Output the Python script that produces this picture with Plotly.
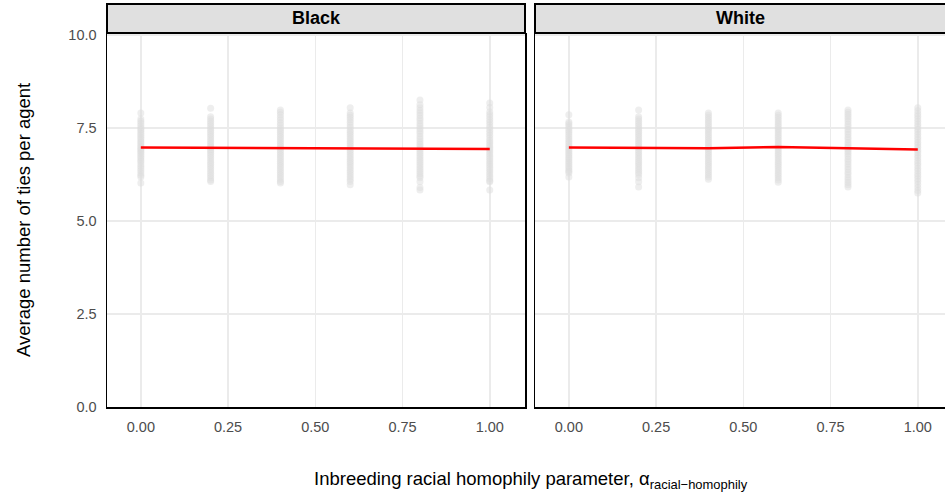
import plotly.graph_objects as go

# ---- data ----
alpha_levels = [0.0, 0.2, 0.4, 0.6, 0.8, 1.0]
x_ticks = [0.0, 0.25, 0.5, 0.75, 1.0]
x_tick_labels = ["0.00", "0.25", "0.50", "0.75", "1.00"]
y_ticks = [0.0, 2.5, 5.0, 7.5, 10.0]
y_tick_labels = ["0.0", "2.5", "5.0", "7.5", "10.0"]
facet_labels = ["Black", "White"]

black_00 = [7.90, 7.74, 7.68, 7.62, 7.56, 7.50, 7.45, 7.40, 7.35, 7.30, 7.25, 7.20, 7.15, 7.10, 7.05, 7.00, 6.96,
            6.92, 6.88, 6.84, 6.79, 6.74, 6.69, 6.64, 6.59, 6.53, 6.47, 6.41, 6.35, 6.29, 6.23, 6.18, 6.02]
black_02 = [8.03, 7.80, 7.74, 7.68, 7.62, 7.56, 7.50, 7.44, 7.38, 7.32, 7.26, 7.20, 7.14, 7.08, 7.02, 6.97, 6.92,
            6.87, 6.82, 6.76, 6.70, 6.64, 6.58, 6.52, 6.46, 6.40, 6.34, 6.28, 6.22, 6.16, 6.10, 6.06]
black_04 = [7.98, 7.92, 7.85, 7.78, 7.71, 7.64, 7.57, 7.50, 7.44, 7.38, 7.32, 7.26, 7.20, 7.14, 7.08, 7.02, 6.96,
            6.90, 6.84, 6.78, 6.72, 6.66, 6.60, 6.54, 6.48, 6.42, 6.36, 6.30, 6.24, 6.18, 6.12, 6.06, 6.02]
black_06 = [8.04, 7.90, 7.84, 7.78, 7.72, 7.65, 7.58, 7.51, 7.44, 7.38, 7.32, 7.26, 7.20, 7.14, 7.08, 7.02, 6.96,
            6.90, 6.84, 6.78, 6.72, 6.66, 6.60, 6.54, 6.48, 6.42, 6.36, 6.30, 6.24, 6.18, 6.12, 6.06, 5.97]
black_08 = [8.25, 8.12, 8.04, 7.97, 7.90, 7.83, 7.76, 7.69, 7.62, 7.55, 7.48, 7.41, 7.34, 7.27, 7.20, 7.13, 7.06,
            6.99, 6.93, 6.87, 6.81, 6.75, 6.69, 6.63, 6.57, 6.51, 6.45, 6.39, 6.33, 6.27, 6.21, 6.16, 6.05, 5.90, 5.83]
black_10 = [8.17, 8.05, 7.93, 7.86, 7.79, 7.72, 7.65, 7.58, 7.51, 7.44, 7.37, 7.30, 7.23, 7.16, 7.10, 7.04, 6.98,
            6.92, 6.86, 6.80, 6.74, 6.68, 6.62, 6.56, 6.50, 6.44, 6.38, 6.32, 6.26, 6.20, 6.14, 6.08, 6.05, 5.83]

white_00 = [7.85, 7.66, 7.61, 7.56, 7.50, 7.44, 7.38, 7.32, 7.26, 7.20, 7.14, 7.08, 7.02, 6.97, 6.92, 6.87, 6.82,
            6.77, 6.72, 6.67, 6.62, 6.57, 6.52, 6.47, 6.42, 6.37, 6.33, 6.29, 6.18]
white_02 = [7.98, 7.80, 7.74, 7.68, 7.62, 7.56, 7.50, 7.44, 7.38, 7.32, 7.26, 7.20, 7.14, 7.08, 7.02, 6.96, 6.90,
            6.84, 6.78, 6.72, 6.66, 6.60, 6.54, 6.48, 6.42, 6.36, 6.30, 6.25, 6.16, 6.05, 5.91]
white_04 = [7.90, 7.84, 7.78, 7.72, 7.66, 7.60, 7.54, 7.48, 7.42, 7.36, 7.30, 7.24, 7.18, 7.12, 7.06, 7.00, 6.95,
            6.90, 6.84, 6.78, 6.72, 6.66, 6.60, 6.54, 6.48, 6.42, 6.36, 6.30, 6.24, 6.18, 6.12]
white_06 = [7.90, 7.84, 7.78, 7.72, 7.66, 7.60, 7.54, 7.48, 7.42, 7.36, 7.30, 7.24, 7.18, 7.12, 7.06, 7.00, 6.94,
            6.88, 6.82, 6.76, 6.70, 6.64, 6.58, 6.52, 6.46, 6.40, 6.34, 6.28, 6.22, 6.16, 6.10, 6.04]
white_08 = [7.98, 7.92, 7.86, 7.80, 7.74, 7.67, 7.60, 7.53, 7.46, 7.39, 7.32, 7.25, 7.18, 7.11, 7.04, 6.98, 6.92,
            6.86, 6.80, 6.73, 6.66, 6.59, 6.52, 6.45, 6.38, 6.31, 6.24, 6.17, 6.10, 6.03, 5.97, 5.91]
white_10 = [8.04, 7.96, 7.88, 7.81, 7.74, 7.67, 7.60, 7.53, 7.46, 7.39, 7.32, 7.25, 7.18, 7.11, 7.04, 6.97, 6.90,
            6.83, 6.76, 6.69, 6.62, 6.55, 6.48, 6.41, 6.34, 6.27, 6.20, 6.13, 6.06, 5.98, 5.90, 5.82, 5.75]

black_mean = [6.97, 6.96, 6.955, 6.95, 6.945, 6.93]
white_mean = [6.97, 6.955, 6.95, 6.985, 6.95, 6.92]

black_cols = [black_00, black_02, black_04, black_06, black_08, black_10]
white_cols = [white_00, white_02, white_04, white_06, white_08, white_10]

# ---- figure ----
FONT = "Liberation Sans, Arial, sans-serif"
W, H = 945, 492
PL, PT, PB = 107, 33, 407    # panel left, top, bottom (px)
ML, MR, MT, MB = PL, 0, PT, H - PB
pw = W - ML - MR
ph = H - MT - MB

def px_x(p):
    return (p - ML) / pw

def px_y(p):
    return (PB - p) / ph

dom1 = [0.0, px_x(525)]
dom2 = [px_x(535), 1.0]

fig = go.Figure()

point_color = "rgba(222,222,222,0.5)"

for panel, (cols, means) in enumerate([(black_cols, black_mean), (white_cols, white_mean)]):
    xa = "x" if panel == 0 else "x2"
    ya = "y" if panel == 0 else "y2"
    xs, ys = [], []
    for a, col in zip(alpha_levels, cols):
        xs.extend([a] * len(col))
        ys.extend(col)
    fig.add_trace(go.Scatter(x=xs, y=ys, mode="markers", xaxis=xa, yaxis=ya,
                             marker=dict(size=7, color=point_color, line=dict(width=0)),
                             showlegend=False, hoverinfo="skip"))
    fig.add_trace(go.Scatter(x=alpha_levels, y=means, mode="lines", xaxis=xa, yaxis=ya,
                             line=dict(color="#ff0000", width=2.5),
                             showlegend=False, hoverinfo="skip"))

axis_common = dict(
    showgrid=True, gridcolor="#ebebeb", gridwidth=1.5, zeroline=False,
    showline=True, linecolor="black", linewidth=1.5,
    ticks="", tickfont=dict(family=FONT, size=14.5, color="#4d4d4d"),
    ticklabelstandoff=6,
)

fig.update_layout(
    width=W, height=H,
    margin=dict(l=ML, r=MR, t=MT, b=MB),
    paper_bgcolor="white", plot_bgcolor="white",
    font=dict(family=FONT),
    xaxis=dict(domain=dom1, range=[-0.097, 1.101], tickvals=x_ticks, ticktext=x_tick_labels,
               anchor="y", **axis_common),
    xaxis2=dict(domain=dom2, range=[-0.097, 1.078], tickvals=x_ticks, ticktext=x_tick_labels,
                anchor="y2", **axis_common),
    yaxis=dict(domain=[0, 1], range=[0, 10.05], tickvals=y_ticks, ticktext=y_tick_labels,
               anchor="x", mirror=True, **axis_common),
    yaxis2=dict(domain=[0, 1], range=[0, 10.05], tickvals=y_ticks, showticklabels=False,
                anchor="x2", **axis_common),
)

# facet strips
strip_y0 = px_y(33)
strip_y1 = px_y(4)
for (d, label) in zip([dom1, [dom2[0], 1.01]], facet_labels):
    fig.add_shape(type="rect", xref="paper", yref="paper", x0=d[0], x1=d[1], y0=strip_y0, y1=strip_y1,
                  fillcolor="#e0e0e0", line=dict(color="black", width=2), layer="above")
for (d, label) in zip([dom1, [px_x(535), px_x(945)]], facet_labels):
    fig.add_annotation(x=(d[0] + d[1]) / 2, y=(strip_y0 + strip_y1) / 2, xref="paper", yref="paper",
                       text="<b>" + label + "</b>", showarrow=False, xanchor="center", yanchor="middle",
                       font=dict(family=FONT, size=18, color="black"))

# axis titles
fig.add_annotation(x=px_x(23), y=px_y(220), xref="paper", yref="paper", text="Average number of ties per agent",
                   textangle=-90, showarrow=False, xanchor="center", yanchor="middle",
                   font=dict(family=FONT, size=18.5, color="black"))
fig.add_annotation(x=px_x(530.5), y=px_y(480), xref="paper", yref="paper",
                   text="Inbreeding racial homophily parameter, α<sub>racial−homophily</sub>",
                   showarrow=False, xanchor="center", yanchor="middle",
                   font=dict(family=FONT, size=18.5, color="black"))

fig.write_html("out.html", config={"displayModeBar": False, "staticPlot": True},
               post_script="document.body.style.margin='0';document.body.style.overflow='hidden';")
